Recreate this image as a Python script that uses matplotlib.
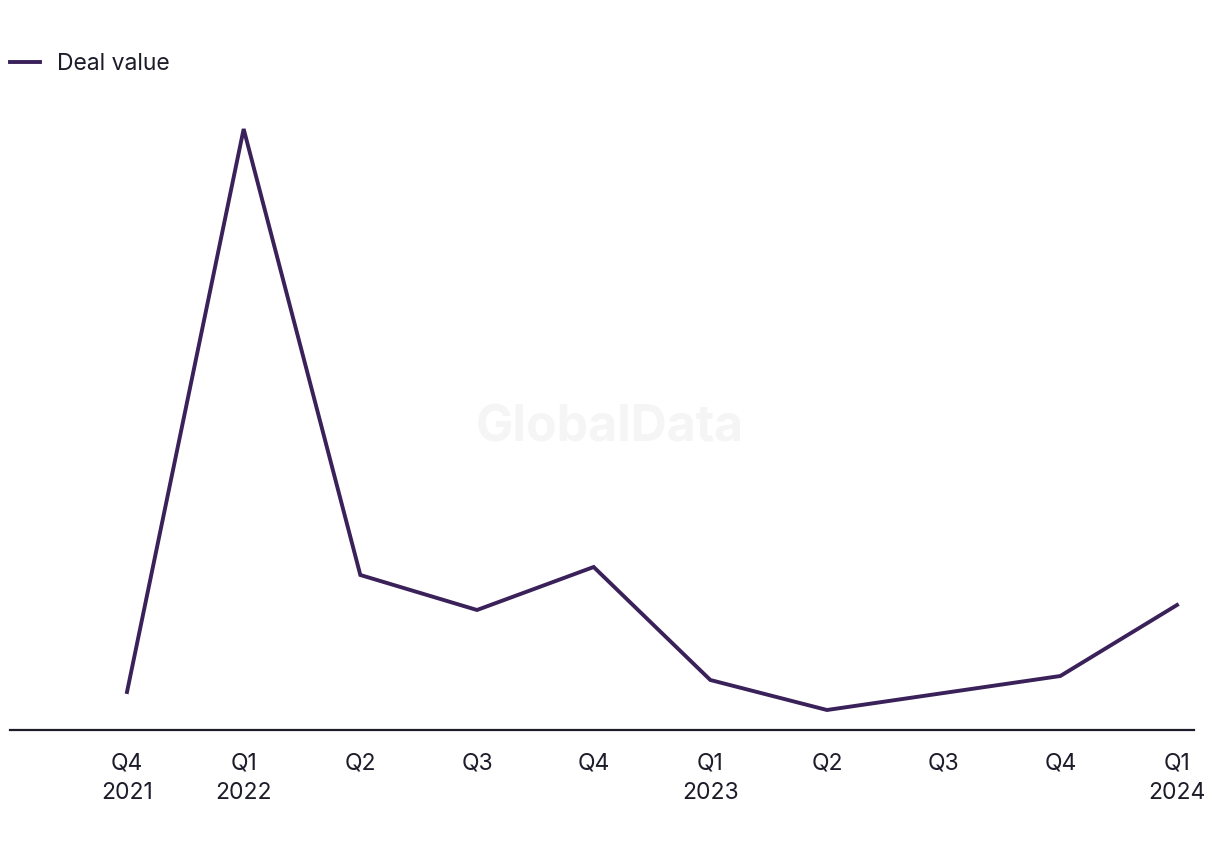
import matplotlib.pyplot as plt

quarters = ["Q4\n2021", "Q1\n2022", "Q2", "Q3", "Q4", "Q1\n2023", "Q2", "Q3", "Q4", "Q1\n2024"]
deal_value = [38, 601, 155, 120, 163, 50, 20, 37, 54, 125]

line_color = "#3a2159"
text_color = "#1c1c2b"

plt.rcParams["font.family"] = ["Inter", "DejaVu Sans"]

fig = plt.figure(figsize=(12.2, 8.5), dpi=100)
# axes spans x 10..1194 px, y 100..730 px
ax = fig.add_axes([10 / 1220, 1 - 730 / 850, 1184 / 1220, 630 / 850])

x = list(range(len(deal_value)))
ax.plot(x, deal_value, color=line_color, linewidth=2.8, label="Deal value",
        solid_joinstyle="miter", clip_on=False)

ax.set_xlim(-117 / 116.67, 9 + 17 / 116.67)
ax.set_ylim(0, 630)

for side in ["top", "right", "left"]:
    ax.spines[side].set_visible(False)
ax.spines["bottom"].set_color(text_color)
ax.spines["bottom"].set_linewidth(1.6)
ax.set_yticks([])
ax.set_xticks(x)
ax.set_xticklabels(quarters, fontsize=16.5, color=text_color, linespacing=1.45)
ax.tick_params(axis="x", length=0, pad=16)

ax.text(0.5, 1 - 428 / 850, "GlobalData", transform=fig.transFigure,
        ha="center", va="center", fontsize=36, fontweight="bold",
        color="#f5f5f5", zorder=0)

leg = fig.legend(loc="center left", bbox_to_anchor=(10 / 1220, 1 - 64 / 850),
                 frameon=False, fontsize=16.5, handlelength=1.3, handletextpad=0.75,
                 borderaxespad=0, borderpad=0)
for t in leg.get_texts():
    t.set_color(text_color)

fig.savefig("out.png", dpi=100, facecolor="white")
